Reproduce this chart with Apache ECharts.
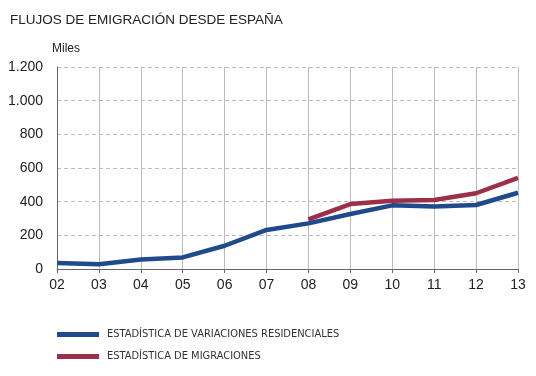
<!DOCTYPE html>
<html>
<head>
<meta charset="utf-8">
<script src="https://cdn.jsdelivr.net/npm/echarts@6/dist/echarts.min.js"></script>
<style>
  html, body { margin: 0; padding: 0; background: #fff; }
  #main { width: 536px; height: 376px; }
</style>
</head>
<body>
<div id="main"></div>
<script>
// años (eje x)
var years = ['02', '03', '04', '05', '06', '07', '08', '09', '10', '11', '12', '13'];
// Estadística de variaciones residenciales (miles)
var evr = [36, 28, 57, 69, 138, 232, 271, 327, 378, 372, 380, 453];
// Estadística de migraciones (miles), empieza en 2008
var em = [null, null, null, null, null, null, 295, 386, 406, 410, 450, 541];

var myChart = echarts.init(document.getElementById('main'));

myChart.setOption({
    animation: false,
    textStyle: { fontFamily: 'Liberation Sans, Arial, sans-serif' },
    title: {
        text: 'FLUJOS DE EMIGRACIÓN DESDE ESPAÑA',
        left: 5,
        top: 8,
        textStyle: { fontSize: 13.5, fontWeight: 'normal', color: '#222' }
    },
    grid: { left: 57, right: 18, top: 67, bottom: 107 },
    legend: {
        orient: 'vertical',
        left: 52,
        top: 324,
        itemWidth: 42,
        itemHeight: 5,
        itemGap: 11,
        icon: 'rect',
        textStyle: { fontSize: 11, color: '#333', fontFamily: 'Liberation Sans Narrow, DejaVu Sans Condensed, sans-serif', padding: [0, 0, 0, 3] },
        data: ['ESTADÍSTICA DE VARIACIONES RESIDENCIALES', 'ESTADÍSTICA DE MIGRACIONES']
    },
    xAxis: {
        type: 'category',
        data: years,
        boundaryGap: false,
        axisLine: { lineStyle: { color: '#666', width: 1 } },
        axisTick: { show: true, length: 4, lineStyle: { color: '#666' } },
        axisLabel: { fontSize: 14, color: '#222', margin: 9 },
        splitLine: { show: true, lineStyle: { color: '#bbb', type: 'solid' } }
    },
    yAxis: {
        type: 'value',
        name: 'Miles',
        nameLocation: 'end',
        nameGap: 12,
        nameTextStyle: { fontSize: 12, color: '#222', align: 'left', padding: [0, 0, 0, -5] },
        min: 0,
        max: 1200,
        interval: 200,
        axisLine: { show: true, lineStyle: { color: '#666' } },
        axisTick: { show: false },
        axisLabel: {
            fontSize: 14, color: '#222', margin: 14,
            formatter: function (v) {
                return v >= 1000 ? Math.floor(v / 1000) + '.' + String(v % 1000).padStart(3, '0') : String(v);
            }
        },
        splitLine: { show: true, lineStyle: { color: '#bbb', type: [4, 3] } }
    },
    series: [
        {
            name: 'ESTADÍSTICA DE VARIACIONES RESIDENCIALES',
            type: 'line',
            data: evr,
            symbol: 'none',
            lineStyle: { width: 4.5, color: '#1f4a8c' },
            itemStyle: { color: '#1f4a8c' },
            z: 3
        },
        {
            name: 'ESTADÍSTICA DE MIGRACIONES',
            type: 'line',
            data: em,
            symbol: 'none',
            lineStyle: { width: 4.5, color: '#9c3048' },
            itemStyle: { color: '#9c3048' },
            z: 2
        }
    ]
});
</script>
</body>
</html>
